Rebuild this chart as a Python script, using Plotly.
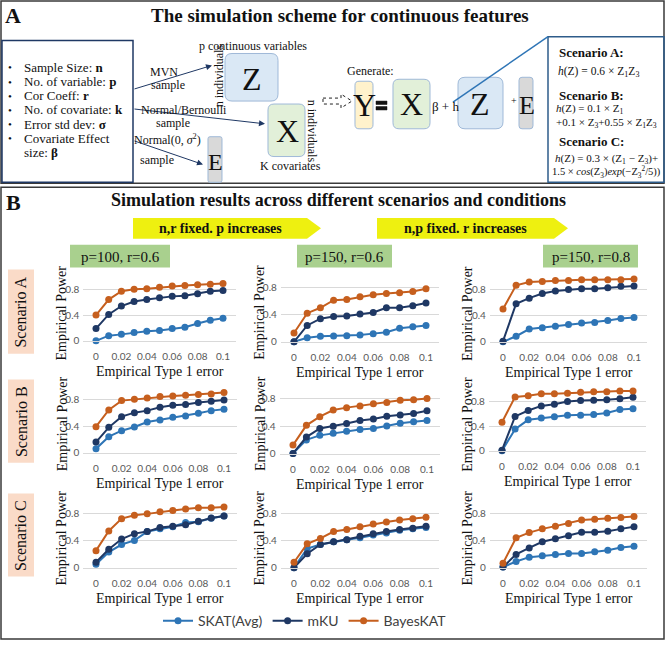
import plotly.graph_objects as go

W, H = 666, 647
def px(x): return x / W
def py(y): return 1 - y / H

# ---------------- data ----------------
x_err = [0, 0.01, 0.02, 0.03, 0.04, 0.05, 0.06, 0.07, 0.08, 0.09, 0.1]
x_tick_vals = [0, 0.02, 0.04, 0.06, 0.08, 0.1]
x_tick_text = ["0", "0.02", "0.04", "0.06", "0.08", "0.1"]
y_tick_vals = [0, 0.4, 0.8]
y_tick_text = ["0", "0.4", "0.8"]
methods = ["SKAT(Avg)", "mKU", "BayesKAT"]
scenarios = ["Scenario A", "Scenario B", "Scenario C"]
conditions = ["p=100, r=0.6", "p=150, r=0.6", "p=150, r=0.8"]

skat_A_1 = [0.00, 0.08, 0.10, 0.13, 0.15, 0.16, 0.19, 0.21, 0.27, 0.32, 0.35]
mku_A_1 = [0.19, 0.41, 0.54, 0.61, 0.64, 0.67, 0.69, 0.70, 0.73, 0.77, 0.78]
bayes_A_1 = [0.40, 0.64, 0.77, 0.80, 0.81, 0.83, 0.85, 0.86, 0.87, 0.88, 0.89]

skat_A_2 = [0.00, 0.06, 0.08, 0.085, 0.09, 0.10, 0.12, 0.14, 0.20, 0.22, 0.24]
mku_A_2 = [0.00, 0.24, 0.34, 0.37, 0.38, 0.41, 0.43, 0.50, 0.50, 0.53, 0.57]
bayes_A_2 = [0.13, 0.42, 0.50, 0.61, 0.62, 0.66, 0.69, 0.71, 0.72, 0.74, 0.78]

skat_A_3 = [0.00, 0.085, 0.195, 0.215, 0.235, 0.265, 0.285, 0.295, 0.325, 0.355, 0.37]
mku_A_3 = [0.01, 0.58, 0.665, 0.735, 0.775, 0.795, 0.81, 0.81, 0.825, 0.845, 0.85]
bayes_A_3 = [0.50, 0.86, 0.91, 0.92, 0.935, 0.935, 0.945, 0.945, 0.945, 0.945, 0.955]

skat_B_1 = [0.06, 0.24, 0.33, 0.385, 0.46, 0.49, 0.53, 0.55, 0.59, 0.63, 0.65]
mku_B_1 = [0.16, 0.38, 0.54, 0.60, 0.63, 0.68, 0.71, 0.72, 0.75, 0.77, 0.79]
bayes_B_1 = [0.39, 0.64, 0.78, 0.80, 0.82, 0.84, 0.85, 0.86, 0.87, 0.88, 0.90]

skat_B_2 = [0.005, 0.20, 0.265, 0.295, 0.325, 0.35, 0.365, 0.40, 0.44, 0.46, 0.48]
mku_B_2 = [0.005, 0.24, 0.365, 0.395, 0.435, 0.48, 0.50, 0.54, 0.56, 0.58, 0.62]
bayes_B_2 = [0.125, 0.41, 0.535, 0.63, 0.665, 0.69, 0.72, 0.74, 0.77, 0.78, 0.795]

skat_B_3 = [0.00, 0.35, 0.50, 0.53, 0.55, 0.575, 0.575, 0.585, 0.61, 0.665, 0.68]
mku_B_3 = [0.01, 0.555, 0.65, 0.725, 0.75, 0.795, 0.81, 0.815, 0.825, 0.84, 0.865]
bayes_B_3 = [0.46, 0.87, 0.89, 0.92, 0.92, 0.93, 0.945, 0.955, 0.955, 0.965, 0.965]

skat_C_1 = [0.05, 0.23, 0.34, 0.40, 0.53, 0.57, 0.60, 0.665, 0.675, 0.725, 0.76]
mku_C_1 = [0.08, 0.27, 0.42, 0.50, 0.53, 0.59, 0.61, 0.63, 0.68, 0.73, 0.76]
bayes_C_1 = [0.25, 0.54, 0.72, 0.77, 0.79, 0.82, 0.84, 0.86, 0.88, 0.88, 0.89]

skat_C_2 = [0.00, 0.28, 0.34, 0.38, 0.41, 0.44, 0.48, 0.51, 0.55, 0.57, 0.59]
mku_C_2 = [0.00, 0.205, 0.34, 0.38, 0.41, 0.46, 0.50, 0.53, 0.56, 0.58, 0.61]
bayes_C_2 = [0.08, 0.35, 0.43, 0.53, 0.56, 0.60, 0.64, 0.67, 0.70, 0.72, 0.74]

skat_C_3 = [0.01, 0.09, 0.155, 0.175, 0.195, 0.21, 0.21, 0.235, 0.255, 0.295, 0.315]
mku_C_3 = [0.01, 0.195, 0.29, 0.38, 0.425, 0.47, 0.52, 0.52, 0.535, 0.57, 0.60]
bayes_C_3 = [0.065, 0.44, 0.515, 0.57, 0.61, 0.65, 0.70, 0.71, 0.725, 0.735, 0.75]

panel_series = [
    [(skat_A_1, mku_A_1, bayes_A_1), (skat_A_2, mku_A_2, bayes_A_2), (skat_A_3, mku_A_3, bayes_A_3)],
    [(skat_B_1, mku_B_1, bayes_B_1), (skat_B_2, mku_B_2, bayes_B_2), (skat_B_3, mku_B_3, bayes_B_3)],
    [(skat_C_1, mku_C_1, bayes_C_1), (skat_C_2, mku_C_2, bayes_C_2), (skat_C_3, mku_C_3, bayes_C_3)],
]

# ---------------- styles / geometry ----------------
colors = ["#2E75B6", "#1F3864", "#C65F1E"]
serif = "Liberation Serif"
sans = "Lato"
TXT = "#111111"

# pixel geometry of each plot: (x of 0, x of 0.1, y of 0, y of 0.8)
geo = [
    [(96, 223, 344, 292), (294, 426, 345, 290), (503, 634, 345, 292)],
    [(96, 224, 457, 403), (293, 427, 458, 402), (502, 633, 455, 405)],
    [(96, 224, 573, 518), (294, 426, 573, 518), (503, 634, 573, 518)],
]
ytitle_x = [62, 260, 468]
XR = [-0.01, 0.11]
YR = [0, 1.0]

fig = go.Figure()
shapes = []
annos = []

def text(x, y, s, size=12, bold=False, family=serif, color=TXT, xanchor="center", angle=0, yanchor="middle"):
    if bold:
        s = "<b>" + s + "</b>"
    annos.append(dict(x=px(x), y=py(y), xref="paper", yref="paper", text=s, showarrow=False,
                      xanchor=xanchor, yanchor=yanchor, textangle=angle,
                      font=dict(family=family, size=size, color=color)))

def rect(x0, y0, x1, y1, fill="rgba(0,0,0,0)", line="#000", lw=1):
    shapes.append(dict(type="rect", xref="paper", yref="paper", x0=px(x0), x1=px(x1),
                       y0=py(y1), y1=py(y0), fillcolor=fill,
                       line=dict(color=line, width=lw), layer="below"))

def rrect(x0, y0, x1, y1, r, fill, line, lw=1):
    P = lambda x, y: f"{px(x):.5f},{py(y):.5f}"
    path = (f"M {P(x0+r,y0)} L {P(x1-r,y0)} Q {P(x1,y0)} {P(x1,y0+r)} "
            f"L {P(x1,y1-r)} Q {P(x1,y1)} {P(x1-r,y1)} L {P(x0+r,y1)} "
            f"Q {P(x0,y1)} {P(x0,y1-r)} L {P(x0,y0+r)} Q {P(x0,y0)} {P(x0+r,y0)} Z")
    shapes.append(dict(type="path", xref="paper", yref="paper", path=path,
                       fillcolor=fill, line=dict(color=line, width=lw), layer="below"))

def arrow(x0, y0, x1, y1, color="#1F3864"):
    annos.append(dict(x=px(x1), y=py(y1), xref="paper", yref="paper", ax=x0 - x1, ay=y0 - y1,
                      axref="pixel", ayref="pixel", text="", showarrow=True, arrowhead=2,
                      arrowsize=1.2, arrowwidth=1, arrowcolor=color))

def line(x0, y0, x1, y1, color="#000", lw=1, dash="solid"):
    shapes.append(dict(type="line", xref="paper", yref="paper", x0=px(x0), y0=py(y0),
                       x1=px(x1), y1=py(y1), line=dict(color=color, width=lw, dash=dash)))

# ---------------- Panel A ----------------
rect(1, 1, 664, 185, line="#3A3A3A", lw=1.5)
text(13, 16, "A", size=22, bold=True)
text(340, 16, "The simulation scheme for continuous features", size=19, bold=True)

# parameter box
rect(2, 41, 133, 184, line="#1F3864", lw=1.5)
params = ["Sample Size: <b>n</b>", "No. of variable: <b>p</b>", "Cor Coeff: <b>r</b>",
          "No. of covariate: <b>k</b>", "Error std dev: <b>σ</b>", "Covariate Effect"]
for i, s in enumerate(params):
    yy = 68 + i * 14.3
    text(10, yy, "•", size=11, xanchor="center")
    text(22, yy, s, size=13, xanchor="left")
text(22, 68 + 6 * 14.3, "size: <b>β</b>", size=13, xanchor="left")

# arrows from parameter box
arrow(133, 90, 212, 66)
text(164, 73, "MVN", size=12)
text(168, 86, "sample", size=12)
arrow(133, 110, 265, 125)
text(184, 111, "Normal/Bernoulli", size=12)
text(173, 124, "sample", size=12)
arrow(133, 142, 203, 166)
text(168, 141, "Normal(0, <i>σ</i><sup>2</sup>)", size=12)
text(157, 162, "sample", size=12)

# Z (p continuous variables)
text(253, 46, "p continuous variables", size=12)
rrect(225, 54, 278, 102, 7, "#DAE8F5", "#9FB9D8")
text(252, 80, "Z", size=32)
text(219, 77, "n individuals", size=12, angle=-90)

# X covariates
rrect(268, 105, 305, 158, 6, "#E2F0D9", "#9FB9D8")
text(287, 132, "X", size=32)
text(312, 132, "n individuals", size=12, angle=90)
text(290, 168, "K covariates", size=12)

# E small
rrect(208, 138, 222, 184, 2, "#D9D9D9", "#9FB9D8")
text(215, 164, "E", size=24)

# dashed block arrow
P = lambda x, y: f"{px(x):.5f},{py(y):.5f}"
shapes.append(dict(type="path", xref="paper", yref="paper",
                   path=f"M {P(323,99)} L {P(341,99)} L {P(341,95)} L {P(352,102)} L {P(341,109)} L {P(341,105)} L {P(323,105)} Z",
                   line=dict(color="#222", width=1, dash="dot"), fillcolor="rgba(0,0,0,0)"))

# Generate: Y = X beta + h(Z) + E
text(370, 72, "Generate:", size=12)
rrect(355, 82, 373, 130, 4, "#FFF2CC", "#9FB9D8")
text(364, 106, "Y", size=32)
rect(376, 102, 387, 105.5, fill="#111", line="#111", lw=0.5)
rect(376, 107.5, 387, 111, fill="#111", line="#111", lw=0.5)
rrect(393, 80, 430, 130, 6, "#E2F0D9", "#9FB9D8")
text(411, 105, "X", size=32)
text(445, 107, "β + h", size=13)
rrect(458, 78, 503, 130, 7, "#DAE8F5", "#9FB9D8")
text(480, 105, "Z", size=32)
text(514, 101, "+", size=10)
rrect(519, 78, 533, 130, 3, "#D9D9D9", "#9FB9D8")
text(527, 106, "E", size=26)
line(453, 103, 548, 37, color="#2E75B6", lw=1.5)

# scenario formula box
rect(548, 37, 664, 184, line="#2E5C8A", lw=1.5)
text(557, 53, "Scenario A:", size=13, bold=True, xanchor="left")
text(556, 73, "<i>h</i>(Z) = 0.6 × Z<sub>1</sub>Z<sub>3</sub>", size=11.5, xanchor="left")
text(557, 96, "Scenario B:", size=13, bold=True, xanchor="left")
text(554, 110, "<i>h</i>(Z) = 0.1 × Z<sub>1</sub>", size=11, xanchor="left")
text(554, 124, "+0.1 × Z<sub>3</sub>+0.55 × Z<sub>1</sub>Z<sub>3</sub>", size=11, xanchor="left")
text(557, 143, "Scenario C:", size=13, bold=True, xanchor="left")
text(606, 160, "<i>h</i>(Z) = 0.3 × (Z<sub>1</sub> − Z<sub>3</sub>)+", size=11)
text(606, 174, "1.5 × <i>cos</i>(Z<sub>3</sub>)<i>exp</i>(−Z<sub>3</sub><sup>2</sup>/5))", size=10.5)

# ---------------- Panel B ----------------
rect(1, 189, 664, 645, line="#3A3A3A", lw=1.5)
text(13, 204, "B", size=22, bold=True)
text(338, 202, "Simulation results across different scenarios and conditions", size=18, bold=True)

def block_arrow(x0, x1, y0, y1, tip, label):
    ym = (y0 + y1) / 2
    path = f"M {P(x0,y0)} L {P(x1-tip,y0)} L {P(x1,ym)} L {P(x1-tip,y1)} L {P(x0,y1)} Z"
    shapes.append(dict(type="path", xref="paper", yref="paper", path=path,
                       fillcolor="#EEF010", line=dict(width=0), layer="below"))
    text((x0 + x1 - tip) / 2, ym + 0.5, label, size=14, bold=True)

block_arrow(133, 321, 220, 241, 14, "n,r fixed. p increases")
block_arrow(377, 568, 220, 241, 14, "n,p fixed. r increases")

green = [(70, 170), (297, 392), (543, 638)]
for (g0, g1), c in zip(green, conditions):
    rect(g0, 247, g1, 270, fill="#A9D08E", line="#A9D08E", lw=0)
    text((g0 + g1) / 2, 259, c, size=15)

pink = [(272, 357), (383, 467), (498, 582)]
for (p0, p1), s in zip(pink, scenarios):
    rect(8, p0, 34, p1, fill="#FADBC8", line="#FADBC8", lw=0)
    text(21, (p0 + p1) / 2, s, size=16, angle=-90)

k = 0
for r in range(3):
    for c in range(3):
        k += 1
        x0p, x1p, y0p, y8p = geo[r][c]
        sx = (x1p - x0p) / 0.1
        sy = (y0p - y8p) / 0.8
        dl = x0p + (XR[0]) * sx
        dr = x0p + (XR[1]) * sx
        dtop = y0p - YR[1] * sy
        xa = "xaxis" if k == 1 else f"xaxis{k}"
        ya = "yaxis" if k == 1 else f"yaxis{k}"
        xr = "x" if k == 1 else f"x{k}"
        yr = "y" if k == 1 else f"y{k}"
        fig.layout[xa] = dict(domain=[px(dl), px(dr)], range=XR, anchor=yr,
                              tickvals=x_tick_vals, ticktext=x_tick_text, showgrid=False,
                              zeroline=False, showline=True, linecolor="#D9D9D9", linewidth=1,
                              ticks="", tickfont=dict(family=sans, size=10, color="#595959"),
                              ticklabelstandoff=6, fixedrange=True)
        fig.layout[ya] = dict(domain=[py(y0p), py(dtop)], range=YR, anchor=xr,
                              tickvals=y_tick_vals, ticktext=y_tick_text, showgrid=True,
                              gridcolor="#D9D9D9", gridwidth=1, zeroline=False, showline=False,
                              ticks="", tickfont=dict(family=sans, size=10, color="#595959"),
                              ticklabelstandoff=3, fixedrange=True)
        for m, (name, ys) in enumerate(zip(methods, panel_series[r][c])):
            fig.add_trace(go.Scatter(x=x_err, y=ys, xaxis=xr, yaxis=yr, mode="lines+markers",
                                     name=name, legendgroup=name, showlegend=(k == 1),
                                     line=dict(color=colors[m], width=2),
                                     marker=dict(color=colors[m], size=7),
                                     cliponaxis=False))
        text(ytitle_x[c], (y0p + dtop) / 2 + 5, "Empirical Power", size=14, angle=-90)
        text((dl + dr) / 2, y0p + 31, "Empirical Type 1 error", size=14)

fig.update_layout(
    width=W, height=H, margin=dict(l=0, r=0, t=0, b=0),
    paper_bgcolor="white", plot_bgcolor="white",
    shapes=shapes, annotations=annos,
    legend=dict(orientation="h", x=px(305), xanchor="center", y=py(627), yanchor="middle",
                font=dict(family=sans, size=14, color="#404040"), itemwidth=30,
                bgcolor="rgba(0,0,0,0)", traceorder="normal"),
)

fig.write_html("out.html")
